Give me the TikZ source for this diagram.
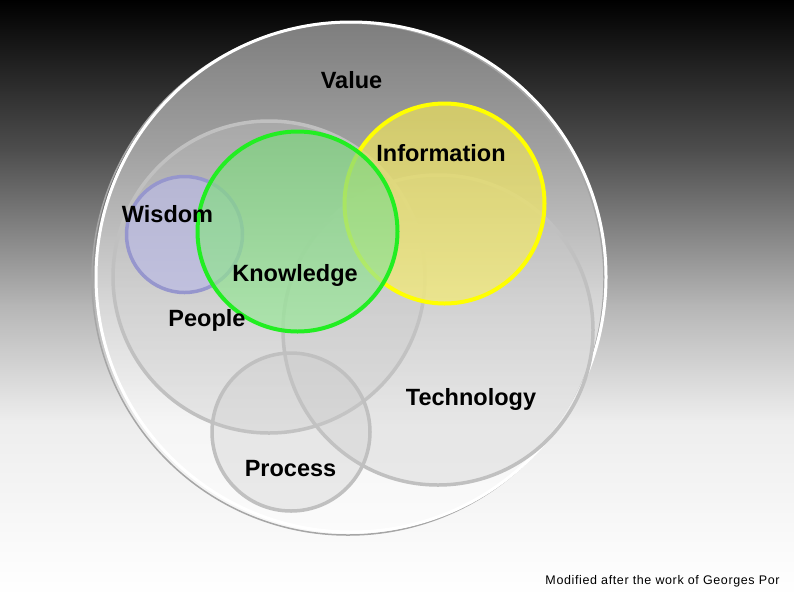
\documentclass[tikz,border=0pt]{standalone}
\usepackage{fontspec}
\setmainfont{Liberation Sans}
\newfontfamily\notefont[LetterSpace=5]{Liberation Sans}

\definecolor{ringgray}{RGB}{192,192,192}
\definecolor{ringfill}{RGB}{201,201,201}
\definecolor{knowtop}{RGB}{126,212,126}
\definecolor{knowbot}{RGB}{156,232,156}
\definecolor{knowedge}{RGB}{34,238,34}
\definecolor{infotop}{RGB}{226,216,96}
\definecolor{infobot}{RGB}{242,234,124}
\definecolor{infoedge}{RGB}{255,255,0}
\definecolor{wisfill}{RGB}{185,185,230}
\definecolor{wisedge}{RGB}{150,150,205}

\begin{document}
\begin{tikzpicture}[x=1pt, y=-1pt,
    setname/.style={font=\fontsize{23.5}{27}\selectfont\bfseries, anchor=base, inner sep=0pt},
    grayset/.style={fill=ringfill, fill opacity=0.33, draw=ringgray, draw opacity=1, line width=3.5pt}]

  \useasboundingbox (0,0) rectangle (794,595);

  % === Backdrop: black at the top, white at the bottom ===
  \foreach \ya/\yb/\ca/\cb in {0/152/0/31, 152/304/31/71, 304/420/71/93, 420/595/93/100}
    \shade[top color=white!\ca!black, bottom color=white!\cb!black]
      (-1,\ya) rectangle (795,{\yb+1});

  % === Value: the big circle ===
  \fill[white, fill opacity=0.47] (351,277) circle (256pt);
  \draw[gray!70, line width=1.5pt] (348,279) circle (256pt);
  \draw[white, line width=3pt] (351,277) circle (255pt);

  % === People, Technology, Process ===
  \path[grayset] (269,277) circle (156pt);
  \path[grayset] (438,330) circle (155pt);
  \path[grayset] (291,432) circle (79pt);

  % === Wisdom ===
  \path[fill=wisfill, fill opacity=0.65, draw=wisedge, line width=3.5pt]
    (184.5,234.5) circle (58pt);

  % === Information ===
  \shade[top color=infotop, bottom color=infobot, fill opacity=0.78]
    (444.5,203.5) circle (100pt);
  \draw[infoedge, line width=4pt] (444.5,203.5) circle (100pt);

  % === Knowledge (on top) ===
  \shade[top color=knowtop, bottom color=knowbot, fill opacity=0.72]
    (297.5,231.5) circle (100pt);
  \draw[knowedge, line width=4pt] (297.5,231.5) circle (100pt);

  % === Names of the sets ===
  \node[setname] (value) at (351.5,88.5) {Value};
  \node[setname] (information) at (441,161.5) {Information};
  \node[setname] (wisdom) at (167.5,222.5) {Wisdom};
  \node[setname] (knowledge) at (295,281.5) {Knowledge};
  \node[setname] (people) at (207,326.5) {People};
  \node[setname] (technology) at (471,405) {Technology};
  \node[setname] (process) at (290.5,476.5) {Process};

  % === Credit line ===
  \node[anchor=base, inner sep=0pt, font=\notefont\fontsize{12.5}{14}\selectfont]
    (credit) at (662.5,584.5) {Modified after the work of Georges Por};

\end{tikzpicture}
\end{document}
